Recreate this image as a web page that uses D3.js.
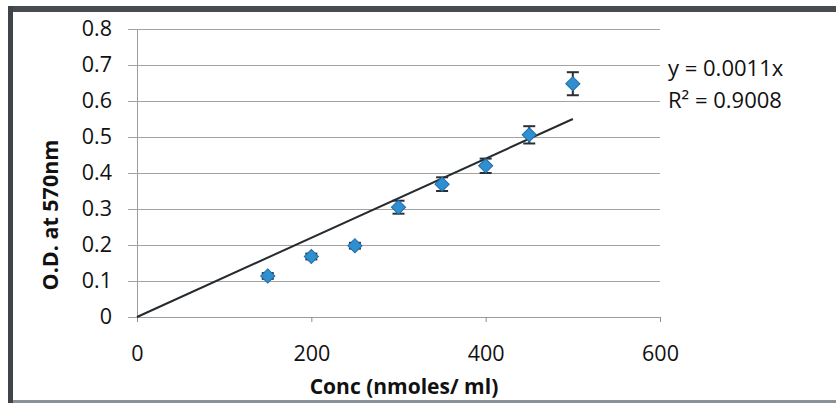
<!DOCTYPE html>
<html>
<head>
<meta charset="utf-8">
<script src="https://cdn.jsdelivr.net/npm/d3@7"></script>
<style>
  html, body { margin: 0; padding: 0; background: #ffffff; }
  svg { display: block; }
  text { font-family: "Open Sans", "Liberation Sans", sans-serif; fill: #111; }
</style>
</head>
<body>
<svg id="chart" width="836" height="403"></svg>
<script>
// ---- data ----
const concentrations = [150, 200, 250, 300, 350, 400, 450, 500];
const odValues       = [0.114, 0.168, 0.198, 0.305, 0.369, 0.420, 0.506, 0.648];
const odErrors       = [0.008, 0.008, 0.008, 0.018, 0.019, 0.020, 0.024, 0.032];
const xTicks = [0, 200, 400, 600];
const yTicks = [0, 0.1, 0.2, 0.3, 0.4, 0.5, 0.6, 0.7, 0.8];
const trendSlope = 0.0011;
const trendRange = [0, 500];
const equationLines = ["y = 0.0011x", "R² = 0.9008"];
const xTitle = "Conc (nmoles/ ml)";
const yTitle = "O.D. at 570nm";

// ---- layout ----
const W = 836, H = 403;
const plot = { left: 137, right: 660, top: 29, bottom: 317 };

const svg = d3.select("#chart");

const x = d3.scaleLinear().domain([0, 600]).range([plot.left, plot.right]);
const y = d3.scaleLinear().domain([0, 0.8]).range([plot.bottom, plot.top]);

// frame
svg.append("rect").attr("x", 0).attr("y", 0).attr("width", W).attr("height", H).attr("fill", "#ffffff");
svg.append("line").attr("x1", 8).attr("x2", W).attr("y1", 9).attr("y2", 9)
  .attr("stroke", "#474c52").attr("stroke-width", 6);
svg.append("line").attr("x1", 10.5).attr("x2", 10.5).attr("y1", 6).attr("y2", H)
  .attr("stroke", "#3f444a").attr("stroke-width", 5);
svg.append("line").attr("x1", 13).attr("x2", W).attr("y1", 401.5).attr("y2", 401.5)
  .attr("stroke", "#8a9198").attr("stroke-width", 3);

// horizontal gridlines (with left tick stubs)
const yAxis = d3.axisLeft(y).tickValues(yTicks)
  .tickSize(-(plot.right - plot.left)).tickSizeOuter(0)
  .tickFormat(d => d === 0 ? "0" : d3.format(".1f")(d)).tickPadding(16);
const gy = svg.append("g").attr("transform", `translate(${plot.left},0)`).call(yAxis);
gy.select(".domain").attr("stroke", "#9c9c9c").attr("stroke-width", 1);
gy.selectAll(".tick line").attr("stroke", "#a3a3a3").attr("stroke-width", 1)
  .attr("x1", -9);
gy.selectAll(".tick text").attr("font-size", 21.5).attr("fill", "#111")
  .attr("font-family", "'Open Sans', sans-serif").attr("x", -25);

// x axis
const xAxis = d3.axisBottom(x).tickValues(xTicks).tickSize(5).tickSizeOuter(0).tickPadding(24);
const gx = svg.append("g").attr("transform", `translate(0,${plot.bottom})`).call(xAxis);
gx.select(".domain").attr("stroke", "#9c9c9c").attr("stroke-width", 1);
gx.selectAll(".tick line").attr("stroke", "#8c8c8c");
gx.selectAll(".tick text").attr("font-size", 21.5).attr("fill", "#111")
  .attr("font-family", "'Open Sans', sans-serif");

// trendline
const line = d3.line().x(d => x(d)).y(d => y(trendSlope * d));
svg.append("path").datum(trendRange).attr("d", line)
  .attr("fill", "none").attr("stroke", "#262b30").attr("stroke-width", 2);

// error bars
const data = concentrations.map((c, i) => ({ c, v: odValues[i], e: odErrors[i] }));
const eb = svg.append("g").attr("stroke", "#2a2f35").attr("stroke-width", 2);
eb.selectAll(".v").data(data).join("line")
  .attr("x1", d => x(d.c)).attr("x2", d => x(d.c))
  .attr("y1", d => y(d.v + d.e)).attr("y2", d => y(d.v - d.e));
eb.selectAll(".t").data(data).join("line")
  .attr("x1", d => x(d.c) - 6).attr("x2", d => x(d.c) + 6)
  .attr("y1", d => y(d.v + d.e)).attr("y2", d => y(d.v + d.e));
eb.selectAll(".b").data(data).join("line")
  .attr("x1", d => x(d.c) - 6).attr("x2", d => x(d.c) + 6)
  .attr("y1", d => y(d.v - d.e)).attr("y2", d => y(d.v - d.e));

// markers (diamonds)
const sym = d3.symbol().type(d3.symbolSquare).size(100);
svg.append("g").selectAll("path").data(data).join("path")
  .attr("d", sym)
  .attr("transform", d => `translate(${x(d.c)},${y(d.v)}) rotate(45)`)
  .attr("fill", "#2f8fd0").attr("stroke", "#1d6ea8").attr("stroke-width", 1);

// equation
const eq = svg.append("g");
eq.selectAll("text").data(equationLines).join("text")
  .attr("x", 668).attr("y", (d, i) => 76 + i * 32)
  .attr("font-size", 22).text(d => d);

// axis titles
svg.append("text").attr("x", 404).attr("y", 394).attr("text-anchor", "middle")
  .attr("font-size", 21).attr("font-weight", "bold").text(xTitle);
svg.append("text").attr("transform", "translate(58,215) rotate(-90)")
  .attr("text-anchor", "middle").attr("font-size", 21.5).attr("font-weight", "bold").text(yTitle);
</script>
</body>
</html>
